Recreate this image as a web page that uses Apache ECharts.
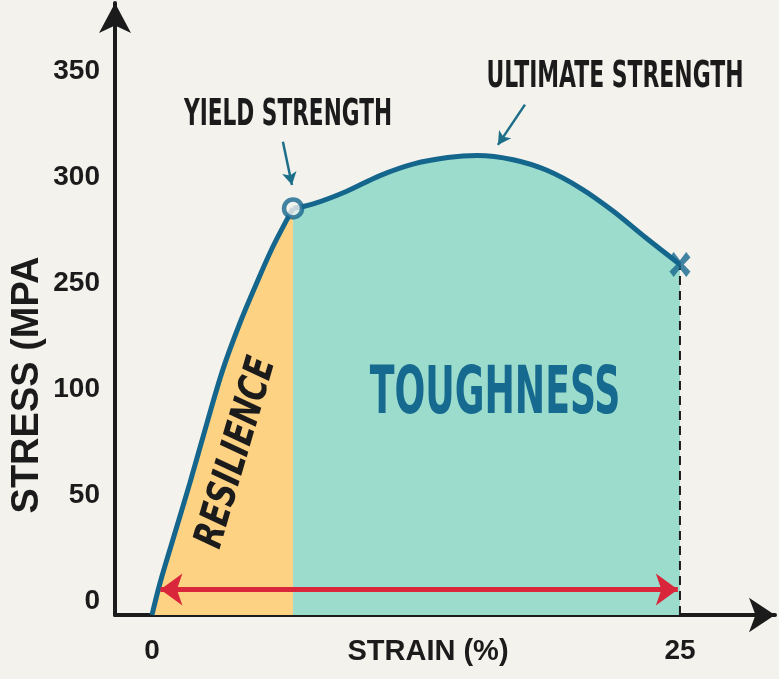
<!DOCTYPE html>
<html>
<head>
<meta charset="utf-8">
<script src="https://cdn.jsdelivr.net/npm/echarts@6.0.0/dist/echarts.min.js"></script>
<style>
html,body{margin:0;padding:0;background:#f3f2ed;}
#main{width:779px;height:679px;}
</style>
</head>
<body>
<div id="main"></div>
<script>
// stress is on the picture's own tick scale: step 0..5 = the six printed labels
var stressTicks = ['0', '50', '100', '250', '300', '350'];
var strainTicks = [0, 25];

// elastic part (resilience), up to the yield point
var elasticStrain = [0, 0.38, 0.99, 1.80, 2.60, 3.36, 4.17, 4.97, 5.73, 6.68];
var elasticStress = [0, 0.30, 0.71, 1.25, 1.81, 2.32, 2.76, 3.14, 3.48, 3.84];
// plastic part (toughness), yield to fracture
var plasticStrain = [6.68, 7.6, 9.2, 10.8, 12.4, 14.0, 15.4, 17.1, 18.7, 20.3, 21.8, 23.4, 25.0];
var plasticStress = [3.84, 3.88, 4.00, 4.15, 4.26, 4.32, 4.34, 4.30, 4.20, 4.03, 3.82, 3.56, 3.31];

var yieldPoint = [6.68, 3.84];
var fracturePoint = [25, 3.31];
var spanStrain = [0.4, 24.9];
var spanLevel = 0.24;

var ink = '#1b1b1b', blue = '#15668d', orange = '#fdd283', teal = '#9cdccc', red = '#d9263a', bg = '#f3f2ed';
var cond = '"DejaVu Sans Condensed", "Liberation Sans", sans-serif';
var sans = '"Liberation Sans", Arial, sans-serif';

function pairs(xs, ys) {
    var out = [];
    for (var i = 0; i < xs.length; i++) out.push([xs[i], ys[i]]);
    return out;
}

var myChart = echarts.init(document.getElementById('main'));
myChart.setOption({
    backgroundColor: bg,
    animation: false,
    grid: {left: 115, right: 4, top: 3, bottom: 64, containLabel: false, outerBoundsMode: 'none'},
    xAxis: {
        type: 'value', min: -1.75, max: 29.5,
        name: 'STRAIN (%)', nameLocation: 'middle', nameGap: 22, nameMoveOverlap: false,
        nameTextStyle: {color: ink, fontFamily: sans, fontWeight: 'bold', fontSize: 29, padding: [0, 34, 0, 0]},
        axisLine: {onZero: false, lineStyle: {color: ink, width: 4}, symbol: ['none', 'arrow'], symbolSize: [26, 26]},
        axisTick: {show: false},
        splitLine: {show: false},
        axisLabel: {customValues: strainTicks, color: ink, fontFamily: sans, fontWeight: 'bold', fontSize: 28, margin: 22}
    },
    yAxis: {
        type: 'value', min: 0, max: 5.78,
        name: 'STRESS (MPA', nameLocation: 'middle', nameRotate: 90, nameGap: 68, nameMoveOverlap: false,
        nameTextStyle: {color: ink, fontFamily: sans, fontWeight: 'bold', fontSize: 38, padding: [0, 152, 0, 0]},
        axisLine: {onZero: false, lineStyle: {color: ink, width: 4}, symbol: ['none', 'arrow'], symbolSize: [24, 30]},
        axisTick: {show: false},
        splitLine: {show: false},
        axisLabel: {
            customValues: [0, 1, 2, 3, 4, 5], color: ink, fontFamily: sans, fontWeight: 'bold', fontSize: 28,
            margin: 15, verticalAlign: 'bottom', padding: [0, 0, 0, 0],
            formatter: function (v) { return stressTicks[Math.round(v)]; }
        }
    },
    series: [
        {type: 'line', data: pairs(elasticStrain, elasticStress), smooth: 0.35, showSymbol: false, z: 2,
            lineStyle: {color: blue, width: 5}, areaStyle: {color: orange, opacity: 1}},
        {type: 'line', data: pairs(plasticStrain, plasticStress), smooth: 0.35, showSymbol: false, z: 2,
            lineStyle: {color: blue, width: 5}, areaStyle: {color: teal, opacity: 1}},
        {type: 'line', data: [[fracturePoint[0], 0], fracturePoint], showSymbol: false, z: 3,
            lineStyle: {color: ink, width: 2, type: [9, 6]}},
        {type: 'line', data: [], z: 4,
            markLine: {silent: true, symbol: ['arrow', 'arrow'], symbolSize: [24, 22], label: {show: false},
                lineStyle: {color: red, width: 5, type: 'solid'},
                data: [[{coord: [spanStrain[0], spanLevel]}, {coord: [spanStrain[1], spanLevel]}]]}},
        {type: 'line', data: [], z: 4,
            markLine: {silent: true, symbol: ['none', 'arrow'], symbolSize: [11, 13], label: {show: false},
                lineStyle: {color: '#1d6f89', width: 2.5, type: 'solid'},
                data: [
                    [{coord: [6.20, 4.47], lineStyle: {curveness: 0.25}}, {coord: [6.63, 4.06]}],
                    [{coord: [17.66, 4.82], lineStyle: {curveness: -0.25}}, {coord: [16.38, 4.44]}]
                ]}},
        {type: 'scatter', data: [yieldPoint], symbol: 'circle', symbolSize: 18, z: 5,
            itemStyle: {color: bg, borderColor: blue, borderWidth: 4.5}},
        {type: 'scatter', data: [fracturePoint], z: 5, symbolSize: [21, 25],
            symbol: 'path://M2,0 L5,3.3 L8,0 L10,2.2 L6.8,5 L10,7.8 L8,10 L5,6.7 L2,10 L0,7.8 L3.2,5 L0,2.2 Z',
            itemStyle: {color: blue}}
    ],
    graphic: [
        {type: 'text', x: 288, y: 115, scaleX: 0.83, scaleY: 1.3, silent: true,
            style: {text: 'YIELD STRENGTH', fill: ink, fontFamily: cond, fontWeight: 'bold', fontSize: 29, align: 'center', verticalAlign: 'middle'}},
        {type: 'text', x: 615, y: 77, scaleX: 0.84, scaleY: 1.3, silent: true,
            style: {text: 'ULTIMATE STRENGTH', fill: ink, fontFamily: cond, fontWeight: 'bold', fontSize: 29, align: 'center', verticalAlign: 'middle'}},
        {type: 'text', x: 495, y: 396, scaleX: 0.84, scaleY: 1.37, silent: true, z: 10,
            style: {text: 'TOUGHNESS', fill: '#166a8f', fontFamily: cond, fontWeight: 'bold', fontSize: 48, align: 'center', verticalAlign: 'middle'}},
        {type: 'text', x: 237, y: 453, rotation: 1.285, scaleX: 0.84, silent: true, z: 10,
            style: {text: 'RESILIENCE', fill: ink, fontFamily: cond, fontWeight: 'bold', fontStyle: 'italic', fontSize: 40, align: 'center', verticalAlign: 'middle'}}
    ]
});
</script>
</body>
</html>
